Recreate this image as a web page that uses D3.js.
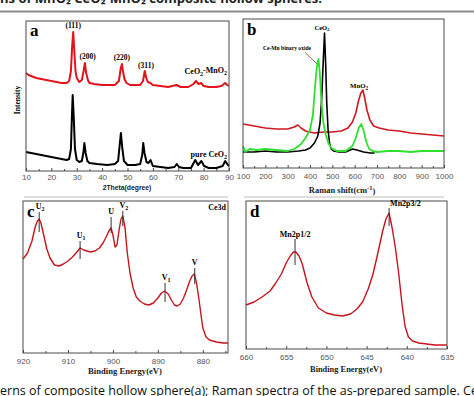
<!DOCTYPE html>
<html>
<head>
<meta charset="utf-8">
<script src="https://cdn.jsdelivr.net/npm/d3@7"></script>
<style>
  body { margin: 0; background: #fff; }
  svg { display: block; }
</style>
</head>
<body>
<script>
'use strict';

// (a) XRD patterns
const xrdCompositeAngle = [10, 11, 12, 14, 16, 18, 20, 22, 24, 26, 27, 27.7, 28.2, 28.6, 29, 29.5, 30, 31, 32, 32.7, 33.2, 33.7, 34.4, 35, 37, 40, 43, 45, 46.6, 47.3, 47.8, 48.2, 48.8, 49.6, 51, 53, 55, 56.1, 56.8, 57.4, 58, 59, 60, 63, 66, 69.3, 71, 74, 76, 77, 78, 79, 80, 82, 85, 87, 88.5, 89.3, 90];
const xrdCompositeI = [98, 96, 95, 93, 92, 91, 90, 89, 88, 88, 90, 100, 125, 139, 122, 100, 93, 89, 91, 100, 108, 98, 91, 88, 87, 86, 86, 86, 90, 102, 107, 100, 92, 88, 86, 86, 86, 90, 100, 93, 89, 88, 86, 85, 84, 86, 84, 84, 87, 90, 87, 88, 85, 84, 84, 85, 88, 86, 85];
const xrdPureAngle = [10, 12, 14, 16, 18, 20, 22, 24, 26, 27, 27.7, 28.1, 28.4, 28.8, 29.3, 30, 31, 32, 32.6, 33, 33.5, 34.2, 35, 38, 42, 45, 46.3, 47, 47.4, 47.9, 48.6, 50, 53, 55, 55.8, 56.2, 56.7, 57.5, 58.3, 59.1, 60, 63, 66, 68.5, 69.4, 70.3, 72, 75, 76.7, 77.8, 79.1, 80.2, 82, 85, 87.5, 88.5, 89.3, 90];
const xrdPureI = [19, 18, 17, 16, 15, 14, 13, 12, 11, 12, 22, 55, 76, 55, 22, 11, 9, 10, 18, 28, 18, 10, 8, 7, 6, 7, 10, 28, 38, 24, 10, 6, 6, 7, 16, 28, 18, 9, 8, 11, 5, 4, 3, 4, 7, 4, 3, 3, 11, 6, 10, 5, 3, 3, 5, 10, 7, 5];
const xrdTicks = [10, 20, 30, 40, 50, 60, 70, 80, 90];
const xrdPeaks = [
  { label: '(111)', x: 28.6, y: 143 },
  { label: '(200)', x: 34.3, y: 112 },
  { label: '(220)', x: 47.8, y: 111 },
  { label: '(311)', x: 57.3, y: 103 }
];

// (b) Raman spectra
const ramanCeO2Shift = [100, 150, 200, 250, 300, 350, 380, 400, 420, 435, 445, 452, 458, 465, 470, 475, 481, 488, 495, 505, 530, 560, 590, 610, 640, 670, 690];
const ramanCeO2I = [16, 16, 17, 16, 16, 17, 18, 20, 25, 32, 45, 68, 100, 135, 105, 65, 38, 24, 19, 17, 16, 16, 19, 18, 16, 15, 15];
const ramanBinaryShift = [100, 110, 130, 160, 200, 250, 300, 330, 360, 380, 400, 413, 422, 430, 438, 444, 450, 460, 471, 482, 495, 520, 560, 590, 605, 618, 630, 642, 652, 665, 680, 700, 750, 800, 850, 900, 950, 1000];
const ramanBinaryI = [22, 16, 19, 18, 19, 18, 17, 19, 24, 30, 38, 53, 80, 100, 109, 95, 70, 45, 33, 25, 20, 17, 17, 22, 30, 40, 44, 36, 26, 19, 17, 16, 17, 17, 16, 17, 17, 17];
const ramanMnO2Shift = [100, 150, 200, 250, 300, 330, 345, 360, 380, 420, 460, 500, 540, 570, 590, 605, 618, 628, 637, 645, 655, 668, 685, 710, 750, 800, 850, 900, 950, 1000];
const ramanMnO2I = [44, 42, 40, 39, 39, 41, 43, 40, 37, 35, 36, 36, 37, 40, 46, 55, 68, 75, 78, 70, 58, 48, 42, 40, 38, 37, 35, 34, 33, 32];
const ramanTicks = [100, 200, 300, 400, 500, 600, 700, 800, 900, 1000];

// (c) Ce 3d XPS
const ceBE = [920, 919, 918, 917.3, 916.8, 916.4, 916, 915.4, 914.7, 914, 913, 912, 911, 910, 909, 908, 907.3, 906.5, 905, 904, 903, 902.2, 901.5, 900.9, 900.4, 900, 899.5, 899.1, 898.6, 898.2, 897.8, 897.3, 896.8, 896.2, 895.5, 894.8, 894, 893, 892, 891, 890, 889.2, 888.5, 887.7, 887, 886.3, 885.7, 885, 884.3, 883.6, 883, 882.4, 881.9, 881.4, 880.9, 880.4, 880, 879.3, 878.5, 877, 875.5, 874.4];
const ceI = [94, 100, 112, 126, 132, 134, 130, 118, 104, 95, 88, 87, 89, 92, 96, 101, 105, 103, 101, 102, 105, 110, 116, 122, 125, 118, 106, 108, 124, 134, 137, 125, 100, 80, 65, 56, 52, 49, 48, 50, 55, 60, 62, 59, 53, 48, 47, 49, 55, 63, 71, 77, 79, 70, 55, 38, 25, 16, 13, 11, 10, 10];
const ceTicks = [920, 910, 900, 890, 880];
const ceMarks = [
  { label: 'U', sub: '2', x: 916.4, top: 141, bottom: 121 },
  { label: 'U', sub: '1', x: 907.3, top: 112, bottom: 94 },
  { label: 'U', sub: '', x: 900.4, top: 136, bottom: 120 },
  { label: 'V', sub: '2', x: 897.8, top: 142, bottom: 127 },
  { label: 'V', sub: '1', x: 888.4, top: 70, bottom: 51 },
  { label: 'V', sub: '', x: 881.8, top: 85, bottom: 69 }
];

// (d) Mn 2p XPS
const mnBE = [660, 659, 658, 657, 656.3, 655.6, 655, 654.5, 654.1, 653.8, 653.4, 653, 652.4, 651.8, 651, 650, 649, 648, 647, 646.2, 645.5, 644.8, 644.2, 643.6, 643, 642.6, 642.2, 641.8, 641.4, 641, 640.6, 640.2, 639.8, 639.3, 638.5, 637.5, 636.5, 635];
const mnI = [44, 47, 52, 58, 66, 75, 86, 93, 97, 97, 93, 85, 66, 52, 41, 36, 34, 33, 35, 40, 47, 60, 75, 96, 118, 130, 136, 120, 100, 75, 45, 22, 12, 8, 6, 5, 4, 4];
const mnTicks = [660, 655, 650, 645, 640, 635];
const mnMarks = [
  { label: 'Mn2p1/2', x: 653.9, top: 110, bottom: 84, anchor: 'middle' },
  { label: 'Mn2p3/2', x: 642.2, top: 141, bottom: 123, anchor: 'start' }
];

const serif = '"Liberation Serif", "DejaVu Serif", serif';
const sans = '"Liberation Sans", Arial, sans-serif';

const svg = d3.select('body').append('svg')
  .attr('width', 474)
  .attr('height', 396);

// write text, "_x" makes a subscript character, "^-1" a superscript
function richText(sel, str) {
  const parts = str.split(/(_\w|\^-?\w+)/);
  let shift = 0;
  parts.forEach(function(p) {
    if (!p) return;
    if (p[0] === '_' || p[0] === '^') {
      const s = p[0] === '_' ? 0.3 : -0.45;
      sel.append('tspan').attr('dy', (s - shift) + 'em').style('font-size', '75%').text(p.slice(1));
      shift = s;
    } else {
      sel.append('tspan').attr('dy', (-shift) + 'em').text(p);
      shift = 0;
    }
  });
  return sel;
}

// draw one panel: frame, bottom axis, lines
function drawPanel(p) {
  const g = svg.append('g');
  const x = d3.scaleLinear().domain(p.xDomain).range([p.left, p.right]);
  const y = d3.scaleLinear().domain([0, p.bottom - p.top]).range([p.bottom, p.top]);

  const line = d3.line().x(d => x(d[0])).y(d => y(d[1]));
  p.series.forEach(function(s) {
    g.append('path')
      .datum(d3.zip(s.x, s.y))
      .attr('d', line)
      .attr('fill', 'none')
      .attr('stroke', s.color)
      .attr('stroke-width', s.width)
      .attr('stroke-linejoin', 'round');
  });

  g.append('rect')
    .attr('x', p.left).attr('y', p.top)
    .attr('width', p.right - p.left).attr('height', p.bottom - p.top)
    .attr('fill', 'none').attr('stroke', '#4a4a4a').attr('stroke-width', 1);

  // minor ticks
  const minor = d3.axisBottom(x).tickValues(p.minor).tickSize(-2).tickFormat('');
  g.append('g').attr('transform', `translate(0,${p.bottom})`).call(minor)
    .call(a => a.select('.domain').remove())
    .selectAll('line').attr('stroke', '#4a4a4a');

  const axis = d3.axisBottom(x).tickValues(p.ticks).tickSizeInner(-3).tickSizeOuter(0)
    .tickPadding(p.pad).tickFormat(d3.format('d'));
  g.append('g').attr('transform', `translate(0,${p.bottom})`).call(axis)
    .call(a => a.select('.domain').remove())
    .call(a => a.selectAll('line').attr('stroke', '#4a4a4a'))
    .selectAll('text')
      .attr('fill', '#555')
      .style('font-family', sans)
      .style('font-size', '8px');

  g.append('text')
    .attr('x', p.left + 4).attr('y', p.top + p.letterDy)
    .style('font-family', serif).style('font-weight', 'bold').style('font-size', '17px')
    .text(p.letter);

  richText(g.append('text')
    .attr('x', p.titleX).attr('y', p.titleY)
    .attr('text-anchor', 'middle')
    .style('font-family', p.titleFont).style('font-weight', 'bold').style('font-size', p.titleSize)
    .attr('fill', '#222'), p.title);

  return { g: g, x: x, y: y };
}

// top: cut-off figure heading and rule
svg.append('text')
  .attr('x', 0).attr('y', 3)
  .attr('textLength', 322).attr('lengthAdjust', 'spacingAndGlyphs')
  .style('font-family', '"Open Sans", sans-serif').style('font-weight', 'bold').style('font-size', '13px')
  .attr('fill', '#222')
  .text('ns of MnO\u2082 CeO\u2082-MnO\u2082 composite hollow spheres.');
svg.append('line')
  .attr('x1', 0).attr('x2', 474).attr('y1', 11.5).attr('y2', 11.5)
  .attr('stroke', '#8a8a8a').attr('stroke-width', 2);
svg.append('line')
  .attr('x1', 24).attr('x2', 228).attr('y1', 197).attr('y2', 197)
  .attr('stroke', '#bdbdbd').attr('stroke-width', 1);
svg.append('line')
  .attr('x1', 244).attr('x2', 444).attr('y1', 197).attr('y2', 197)
  .attr('stroke', '#bdbdbd').attr('stroke-width', 1);

// panel a
const pa = drawPanel({
  left: 26, right: 229, top: 21, bottom: 171, xDomain: [10, 90],
  ticks: xrdTicks, minor: d3.range(15, 90, 10), pad: 3,
  letter: 'a', letterDy: 15,
  title: '2Theta(degree)', titleX: 127, titleY: 190, titleFont: sans, titleSize: '6.8px',
  series: [
    { x: xrdCompositeAngle, y: xrdCompositeI, color: '#e3141b', width: 2 },
    { x: xrdPureAngle, y: xrdPureI, color: '#000', width: 2 }
  ]
});
xrdPeaks.forEach(function(d) {
  pa.g.append('text')
    .attr('x', pa.x(d.x)).attr('y', pa.y(d.y))
    .attr('text-anchor', 'middle')
    .style('font-family', serif).style('font-weight', 'bold').style('font-size', '7.5px')
    .text(d.label);
});
richText(pa.g.append('text').attr('x', 227).attr('y', 74).attr('text-anchor', 'end')
  .style('font-family', serif).style('font-weight', 'bold').style('font-size', '8px'), 'CeO_2-MnO_2');
richText(pa.g.append('text').attr('x', 227).attr('y', 157).attr('text-anchor', 'end')
  .style('font-family', serif).style('font-weight', 'bold').style('font-size', '8px'), 'pure CeO_2');
pa.g.append('text')
  .attr('transform', 'translate(20,100)rotate(-90)')
  .attr('text-anchor', 'middle')
  .style('font-family', serif).style('font-weight', 'bold').style('font-size', '7.5px')
  .text('Intensity');

// panel b
const pb = drawPanel({
  left: 243, right: 444, top: 19, bottom: 168, xDomain: [100, 1000],
  ticks: ramanTicks, minor: d3.range(150, 1000, 100), pad: 5,
  letter: 'b', letterDy: 16,
  title: 'Raman shift(cm^-1)', titleX: 342, titleY: 193, titleFont: serif, titleSize: '8.5px',
  series: [
    { x: ramanMnO2Shift, y: ramanMnO2I, color: '#d01820', width: 1.6 },
    { x: ramanCeO2Shift, y: ramanCeO2I, color: '#000', width: 1.6 },
    { x: ramanBinaryShift, y: ramanBinaryI, color: '#2fe02f', width: 1.8 }
  ]
});
richText(pb.g.append('text').attr('x', 322).attr('y', 30).attr('text-anchor', 'middle')
  .style('font-family', serif).style('font-weight', 'bold').style('font-size', '6.5px'), 'CeO_2');
pb.g.append('text').attr('x', 287).attr('y', 50).attr('text-anchor', 'middle')
  .style('font-family', serif).style('font-weight', 'bold').style('font-size', '5.6px')
  .text('Ce-Mn binary oxide');
pb.g.append('line')
  .attr('x1', 305).attr('y1', 52.5).attr('x2', pb.x(432)).attr('y2', pb.y(104))
  .attr('stroke', '#333').attr('stroke-width', 0.7);
richText(pb.g.append('text').attr('x', 359).attr('y', 88).attr('text-anchor', 'middle')
  .style('font-family', serif).style('font-weight', 'bold').style('font-size', '6.8px'), 'MnO_2');

// panel c
const pc = drawPanel({
  left: 23, right: 228, top: 201, bottom: 353, xDomain: [920, 874.4],
  ticks: ceTicks, minor: d3.range(915, 874, -10), pad: 5,
  letter: 'c', letterDy: 16,
  title: 'Binding Energy(eV)', titleX: 125, titleY: 374, titleFont: serif, titleSize: '8.6px',
  series: [{ x: ceBE, y: ceI, color: '#c8141c', width: 1.4 }]
});
ceMarks.forEach(function(d) {
  pc.g.append('line')
    .attr('x1', pc.x(d.x)).attr('x2', pc.x(d.x))
    .attr('y1', pc.y(d.top)).attr('y2', pc.y(d.bottom))
    .attr('stroke', '#333').attr('stroke-width', 1);
  richText(pc.g.append('text').attr('x', pc.x(d.x) + (d.sub ? 1 : 0)).attr('y', pc.y(d.top) - 3)
    .attr('text-anchor', 'middle')
    .style('font-family', serif).style('font-weight', 'bold').style('font-size', '8px'),
    d.sub ? d.label + '_' + d.sub : d.label);
});
pc.g.append('text').attr('x', 226).attr('y', 210).attr('text-anchor', 'end')
  .style('font-family', serif).style('font-weight', 'bold').style('font-size', '8px')
  .text('Ce3d');

// panel d
const pd = drawPanel({
  left: 246, right: 447, top: 201, bottom: 349, xDomain: [660, 635],
  ticks: mnTicks, minor: d3.range(657.5, 635, -5), pad: 5,
  letter: 'd', letterDy: 16,
  title: 'Binding Energy(eV)', titleX: 346, titleY: 372, titleFont: serif, titleSize: '8.4px',
  series: [{ x: mnBE, y: mnI, color: '#c8141c', width: 1.4 }]
});
mnMarks.forEach(function(d) {
  pd.g.append('line')
    .attr('x1', pd.x(d.x)).attr('x2', pd.x(d.x))
    .attr('y1', pd.y(d.top)).attr('y2', pd.y(d.bottom))
    .attr('stroke', '#333').attr('stroke-width', 1);
  pd.g.append('text').attr('x', pd.x(d.x) + (d.anchor === 'start' ? 1 : 0)).attr('y', pd.y(d.top) - 2)
    .attr('text-anchor', d.anchor)
    .style('font-family', serif).style('font-weight', 'bold').style('font-size', '8px')
    .text(d.label);
});

// bottom: cut-off caption (runs past the right edge, as in the source)
svg.append('text')
  .attr('x', 0).attr('y', 395)
  .attr('textLength', 478).attr('lengthAdjust', 'spacingAndGlyphs')
  .style('font-family', '"Open Sans", sans-serif').style('font-size', '13px')
  .attr('fill', '#111')
  .text('erns of composite hollow sphere(a); Raman spectra of the as-prepared sample. Ce');
</script>
</body>
</html>
